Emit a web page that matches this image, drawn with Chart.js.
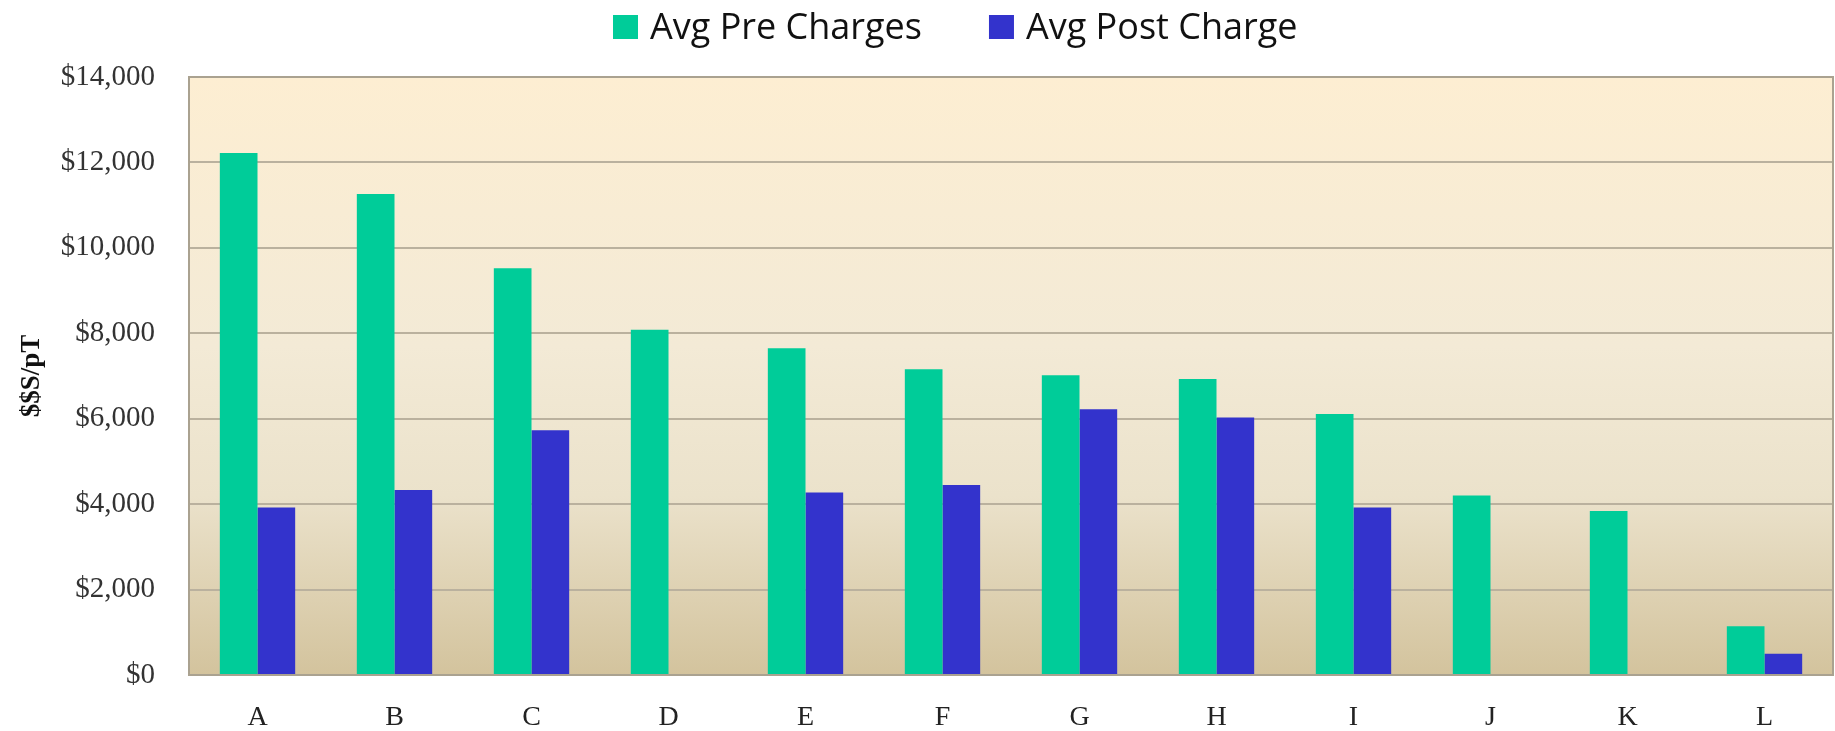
<!DOCTYPE html>
<html>
<head>
<meta charset="utf-8">
<script src="https://cdn.jsdelivr.net/npm/chart.js@4.4.1/dist/chart.umd.min.js"></script>
<style>
  html, body { margin: 0; padding: 0; background: #fff; }
  #wrap { width: 1835px; height: 731px; position: relative; }
</style>
</head>
<body>
<div id="wrap"><canvas id="chart"></canvas></div>
<script>
// Werte ($ pro pT)
const CATEGORIES = ['A', 'B', 'C', 'D', 'E', 'F', 'G', 'H', 'I', 'J', 'K', 'L'];
const PRE_CHARGES = [12220, 11260, 9520, 8080, 7650, 7160, 7020, 6930, 6110, 4200, 3840, 1140];
const POST_CHARGE = [3920, 4330, 5730, null, 4270, 4450, 6220, 6030, 3920, null, null, 500];
const SERIES_LABELS = ['Avg Pre Charges', 'Avg Post Charge'];
const Y_MIN = 0;
const Y_MAX = 14000;
const Y_STEP = 2000;
const Y_TITLE = '$$S/pT';

const SERIF = '"Liberation Serif", "Times New Roman", serif';
const LEGEND_FONT = '"Open Sans", sans-serif';

// Hintergrund-Verlauf im Plotbereich
const plotBackground = {
  id: 'plotBackground',
  beforeDraw(chart) {
    const { ctx, chartArea: a } = chart;
    const g = ctx.createLinearGradient(0, a.top, 0, a.bottom);
    g.addColorStop(0, '#fdeed2');
    g.addColorStop(0.45, '#f3ead6');
    g.addColorStop(0.7, '#ebe2cb');
    g.addColorStop(1, '#d3c39d');
    ctx.save();
    ctx.fillStyle = g;
    ctx.fillRect(a.left, a.top, a.right - a.left, a.bottom - a.top);
    ctx.restore();
  },
};

// Rahmen um den Plotbereich
const plotFrame = {
  id: 'plotFrame',
  beforeDatasetsDraw(chart) {
    const { ctx, chartArea: a } = chart;
    ctx.save();
    ctx.strokeStyle = '#aaa290';
    ctx.lineWidth = 2;
    ctx.strokeRect(a.left, a.top, a.right - a.left, a.bottom - a.top);
    ctx.restore();
  },
};

// Legende oben, leicht links der Mitte wie im Original
const topLegend = {
  id: 'topLegend',
  afterDraw(chart) {
    const { ctx } = chart;
    ctx.save();
    ctx.font = '36px ' + LEGEND_FONT;
    ctx.textBaseline = 'alphabetic';
    let x = 613;
    chart.data.datasets.forEach((ds) => {
      ctx.fillStyle = ds.backgroundColor;
      ctx.fillRect(x, 15, 25, 24);
      ctx.fillStyle = '#111';
      ctx.fillText(ds.label, x + 37, 39);
      x += 37 + ctx.measureText(ds.label).width + 67;
    });
    ctx.restore();
  },
};

new Chart(document.getElementById('chart'), {
  type: 'bar',
  data: {
    labels: CATEGORIES,
    datasets: [
      { label: SERIES_LABELS[0], data: PRE_CHARGES, backgroundColor: '#00cc99' },
      { label: SERIES_LABELS[1], data: POST_CHARGE, backgroundColor: '#3333cc' },
    ],
  },
  options: {
    responsive: true,
    maintainAspectRatio: false,
    animation: false,
    layout: { padding: { top: 77, right: 2, left: 0, bottom: 0 } },
    datasets: {
      bar: { categoryPercentage: 0.55, barPercentage: 1.0, borderWidth: 0 },
    },
    scales: {
      x: {
        grid: { display: false, drawTicks: false },
        border: { display: false },
        ticks: { color: '#222', padding: 26, font: { family: SERIF, size: 28 } },
        afterFit: (s) => { s.height = 56; },
      },
      y: {
        min: Y_MIN,
        max: Y_MAX,
        ticks: {
          stepSize: Y_STEP,
          color: '#333',
          padding: 34,
          font: { family: SERIF, size: 29 },
          callback: (v) => '$' + Number(v).toLocaleString('en-US'),
        },
        grid: { color: '#bab19e', lineWidth: 2, drawTicks: false },
        border: { display: false },
        title: {
          display: true,
          text: Y_TITLE,
          color: '#111',
          padding: { top: 16, bottom: 0 },
          font: { family: SERIF, size: 27, weight: 'bold' },
        },
        afterFit: (s) => { s.width = 189; },
      },
    },
    plugins: {
      legend: { display: false },
      tooltip: { enabled: false },
    },
  },
  plugins: [plotBackground, plotFrame, topLegend],
});
</script>
</body>
</html>
